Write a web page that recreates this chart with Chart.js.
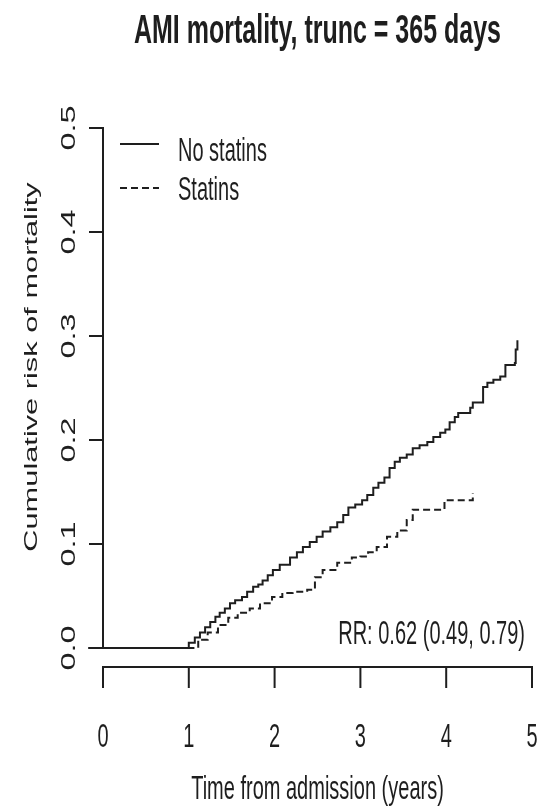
<!DOCTYPE html>
<html>
<head>
<meta charset="utf-8">
<title>AMI mortality</title>
<script src="https://cdn.jsdelivr.net/npm/chart.js@4"></script>
<style>
  body { margin: 0; background: #fff; }
  canvas { display: block; }
</style>
</head>
<body>
<canvas id="kmChart" width="539" height="809"></canvas>
<script>
// cumulative risk, no statins (years from admission, risk)
const noStatinsT = [-0.17, 1.00, 1.07, 1.13, 1.19, 1.25, 1.31, 1.36, 1.42, 1.48, 1.54, 1.62, 1.68, 1.75, 1.81,
  1.86, 1.92, 1.98, 2.06, 2.18, 2.26, 2.33, 2.41, 2.49, 2.56, 2.65, 2.73, 2.80, 2.86, 2.94, 3.02, 3.08,
  3.15, 3.21, 3.28, 3.34, 3.40, 3.46, 3.54, 3.61, 3.69, 3.78, 3.85, 3.93, 3.99, 4.04, 4.10, 4.14, 4.28,
  4.31, 4.43, 4.48, 4.55, 4.63, 4.69, 4.80, 4.81, 4.83];
const noStatinsRisk = [0, 0.005, 0.010, 0.015, 0.020, 0.025, 0.030, 0.034, 0.038, 0.043, 0.046, 0.049, 0.054, 0.059, 0.061,
  0.065, 0.070, 0.075, 0.080, 0.087, 0.092, 0.097, 0.102, 0.107, 0.112, 0.116, 0.121, 0.128, 0.135, 0.138, 0.142, 0.147,
  0.154, 0.159, 0.164, 0.173, 0.179, 0.183, 0.186, 0.192, 0.195, 0.198, 0.203, 0.207, 0.210, 0.217, 0.222, 0.226, 0.231,
  0.236, 0.251, 0.255, 0.258, 0.261, 0.272, 0.274, 0.287, 0.296];

// cumulative risk, statins
const statinsT = [-0.17, 1.03, 1.11, 1.22, 1.34, 1.46, 1.57, 1.71, 1.83, 1.97, 2.09, 2.21, 2.38, 2.47, 2.56,
  2.73, 2.90, 3.00, 3.09, 3.19, 3.31, 3.43, 3.54, 3.61, 3.98, 4.31];
const statinsRisk = [0, 0, 0.008, 0.015, 0.022, 0.029, 0.034, 0.038, 0.043, 0.049, 0.053, 0.054, 0.056, 0.068, 0.075,
  0.082, 0.087, 0.088, 0.092, 0.097, 0.107, 0.113, 0.123, 0.133, 0.142, 0.149];

const seriesNames = ['No statins', 'Statins'];

const xTicks = [0, 1, 2, 3, 4, 5];
const xTickLabels = ['0', '1', '2', '3', '4', '5'];
const yTicks = [0, 0.1, 0.2, 0.3, 0.4, 0.5];
const yTickLabels = ['0.0', '0.1', '0.2', '0.3', '0.4', '0.5'];

const mainTitle = 'AMI mortality, trunc = 365 days';
const xTitle = 'Time from admission (years)';
const yTitle = 'Cumulative risk of mortality';
const rrText = 'RR: 0.62 (0.49, 0.79)';

const INK = '#1e1e1e';
const FONT = '"Liberation Sans", Arial, sans-serif';
const STRETCH = 1.62; // tall, narrow lettering

function toPoints(ts, vs) {
  return ts.map((t, i) => ({ x: t, y: vs[i] }));
}

// text drawn taller than wide; rotated text stretches along its length
function tallText(ctx, text, x, y, size, opts) {
  opts = opts || {};
  ctx.save();
  ctx.translate(x, y);
  if (opts.rotate) {
    ctx.rotate(-Math.PI / 2);
    ctx.scale(STRETCH, 1);
  } else {
    ctx.scale(1, STRETCH);
  }
  ctx.font = (opts.bold ? 'bold ' : '') + size + 'px ' + FONT;
  ctx.fillStyle = INK;
  ctx.textAlign = opts.align || 'center';
  ctx.textBaseline = 'alphabetic';
  ctx.fillText(text, 0, 0);
  ctx.restore();
}

// base-graphics style axes, legend and labels
const rStyleAxes = {
  id: 'rStyleAxes',
  afterDraw(chart) {
    const ctx = chart.ctx;
    const xs = chart.scales.x;
    const ys = chart.scales.y;
    const x0 = xs.getPixelForValue(xTicks[0]);
    const x1 = xs.getPixelForValue(xTicks[xTicks.length - 1]);
    const yBottom = ys.getPixelForValue(yTicks[0]);
    const yTop = ys.getPixelForValue(yTicks[yTicks.length - 1]);
    const xAxisY = yBottom + 19;

    ctx.save();
    ctx.strokeStyle = INK;
    ctx.lineWidth = 2;
    ctx.lineCap = 'butt';

    // y axis
    ctx.beginPath();
    ctx.moveTo(x0, yBottom);
    ctx.lineTo(x0, yTop);
    yTicks.forEach(v => {
      const py = ys.getPixelForValue(v);
      ctx.moveTo(x0 - 14, py);
      ctx.lineTo(x0 + 1, py);
    });
    ctx.stroke();

    // x axis
    ctx.beginPath();
    ctx.moveTo(x0, xAxisY);
    ctx.lineTo(x1, xAxisY);
    xTicks.forEach(v => {
      const px = xs.getPixelForValue(v);
      ctx.moveTo(px, xAxisY - 1);
      ctx.lineTo(px, xAxisY + 21);
    });
    ctx.stroke();

    // legend
    const legY = [144, 188];
    ctx.beginPath();
    ctx.moveTo(120, legY[0]);
    ctx.lineTo(159, legY[0]);
    ctx.stroke();
    ctx.setLineDash([7, 4]);
    ctx.beginPath();
    ctx.moveTo(120, legY[1]);
    ctx.lineTo(159, legY[1]);
    ctx.stroke();
    ctx.setLineDash([]);
    ctx.restore();

    tallText(ctx, seriesNames[0], 178, legY[0] + 17, 20, { align: 'left' });
    tallText(ctx, seriesNames[1], 178, legY[1] + 12, 20, { align: 'left' });

    // tick labels
    xTicks.forEach((v, i) => {
      tallText(ctx, xTickLabels[i], xs.getPixelForValue(v), 747, 20);
    });
    yTicks.forEach((v, i) => {
      tallText(ctx, yTickLabels[i], 75, ys.getPixelForValue(v), 20, { rotate: true });
    });

    // titles and annotation
    tallText(ctx, mainTitle, (x0 + x1) / 2, 43, 25, { bold: true });
    tallText(ctx, xTitle, (x0 + x1) / 2, 799, 20);
    tallText(ctx, yTitle, 37, 367, 19, { rotate: true });
    tallText(ctx, rrText, 525, 644, 20, { align: 'right' });
  }
};

const ctx = document.getElementById('kmChart').getContext('2d');

new Chart(ctx, {
  type: 'line',
  data: {
    datasets: [{
      label: seriesNames[0],
      data: toPoints(noStatinsT, noStatinsRisk),
      borderColor: INK,
      borderWidth: 2,
      stepped: 'before', // flat until the event time, then jump
      pointRadius: 0,
      clip: false
    }, {
      label: seriesNames[1],
      data: toPoints(statinsT, statinsRisk),
      borderColor: INK,
      borderWidth: 2,
      borderDash: [7, 4],
      stepped: 'before',
      pointRadius: 0,
      clip: false
    }]
  },
  options: {
    responsive: false,
    animation: false,
    layout: {
      padding: { left: 103, right: 7, top: 128, bottom: 161 }
    },
    scales: {
      x: { type: 'linear', min: 0, max: 5, display: false },
      y: { type: 'linear', min: 0, max: 0.5, display: false }
    },
    plugins: {
      legend: { display: false },
      title: { display: false },
      tooltip: { enabled: false }
    }
  },
  plugins: [rStyleAxes]
});
</script>
</body>
</html>
